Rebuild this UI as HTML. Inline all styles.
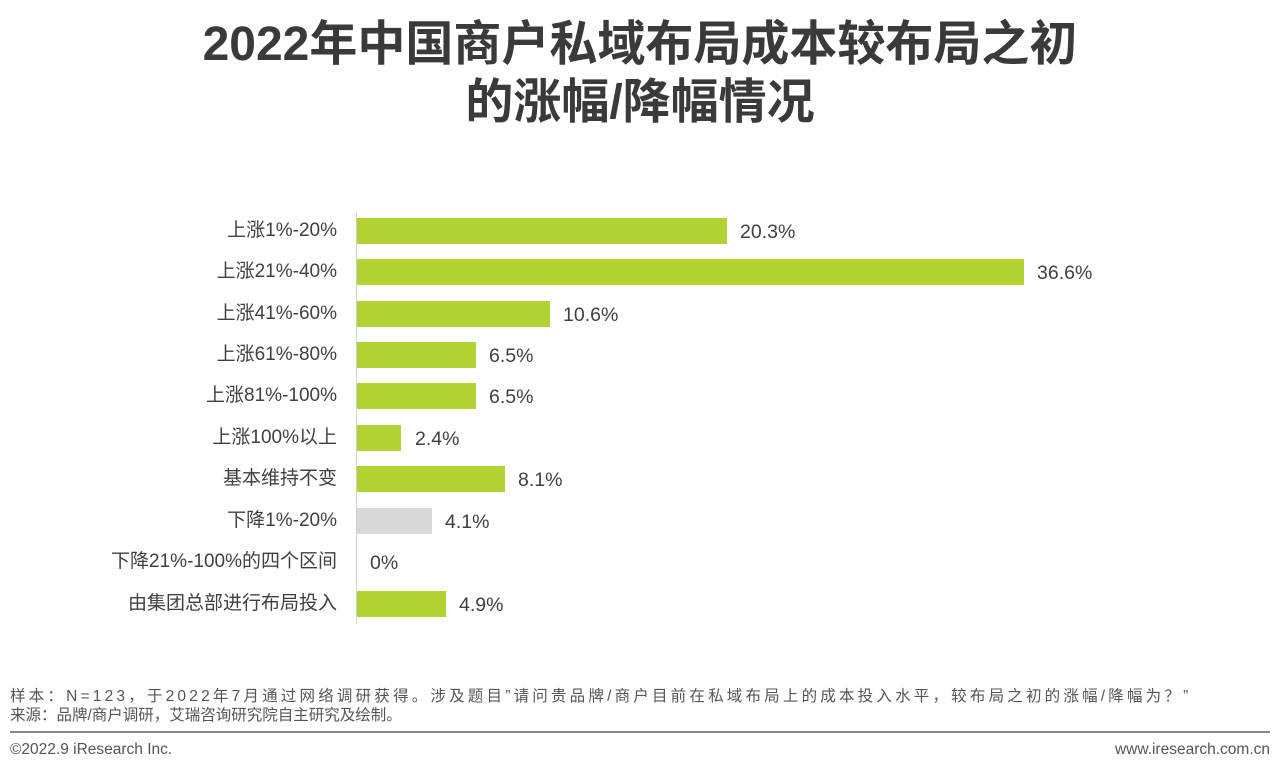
<!DOCTYPE html>
<html><head><meta charset="utf-8"><style>
body{margin:0;width:1280px;height:773px;background:#fff;position:relative;overflow:hidden;font-family:"Liberation Sans","Noto Sans CJK SC",sans-serif;}
.t{position:absolute;left:0;width:1280px;text-align:center;font-size:48px;font-weight:bold;color:#3a3a3a;line-height:58px;}
.lab{position:absolute;right:943px;font-size:19px;color:#404040;white-space:nowrap;line-height:22px;}
.bar{position:absolute;left:357px;height:26px;background:#b3d334;}
.val{position:absolute;font-size:19.5px;color:#404040;line-height:22px;}
.f{position:absolute;left:10px;font-size:15.5px;color:#555;white-space:nowrap;line-height:18px;}
</style></head><body>
<div class="t" style="top:16px">2022年中国商户私域布局成本较布局之初</div>
<div class="t" style="top:74px">的涨幅/降幅情况</div>
<div style="position:absolute;left:356px;top:213px;width:1px;height:411px;background:#d0d0d0"></div>
<div class="lab" style="top:220px">上涨1%-20%</div><div class="bar" style="top:218px;width:370px"></div><div class="val" style="left:740px;top:221px">20.3%</div>
<div class="lab" style="top:261px">上涨21%-40%</div><div class="bar" style="top:259px;width:667px"></div><div class="val" style="left:1037px;top:262px">36.6%</div>
<div class="lab" style="top:303px">上涨41%-60%</div><div class="bar" style="top:301px;width:193px"></div><div class="val" style="left:563px;top:304px">10.6%</div>
<div class="lab" style="top:344px">上涨61%-80%</div><div class="bar" style="top:342px;width:119px"></div><div class="val" style="left:489px;top:345px">6.5%</div>
<div class="lab" style="top:385px">上涨81%-100%</div><div class="bar" style="top:383px;width:119px"></div><div class="val" style="left:489px;top:386px">6.5%</div>
<div class="lab" style="top:427px">上涨100%以上</div><div class="bar" style="top:425px;width:44px"></div><div class="val" style="left:415px;top:428px">2.4%</div>
<div class="lab" style="top:468px">基本维持不变</div><div class="bar" style="top:466px;width:148px"></div><div class="val" style="left:518px;top:469px">8.1%</div>
<div class="lab" style="top:510px">下降1%-20%</div><div class="bar" style="top:508px;width:75px;background:#d9d9d9"></div><div class="val" style="left:445px;top:511px">4.1%</div>
<div class="lab" style="top:551px">下降21%-100%的四个区间</div><div class="val" style="left:370px;top:552px">0%</div>
<div class="lab" style="top:593px">由集团总部进行布局投入</div><div class="bar" style="top:591px;width:89px"></div><div class="val" style="left:459px;top:594px">4.9%</div>
<div class="f" style="top:688px;letter-spacing:3.2px">样本：N=123，于2022年7月通过网络调研获得。涉及题目”请问贵品牌/商户目前在私域布局上的成本投入水平，较布局之初的涨幅/降幅为？”</div>
<div class="f" style="top:707px">来源：品牌/商户调研，艾瑞咨询研究院自主研究及绘制。</div>
<div style="position:absolute;left:10px;top:731px;width:1260px;height:2px;background:#888"></div>
<div class="f" style="top:741px">©2022.9 iResearch Inc.</div>
<div class="f" style="top:741px;left:auto;right:10px">www.iresearch.com.cn</div>
</body></html>
